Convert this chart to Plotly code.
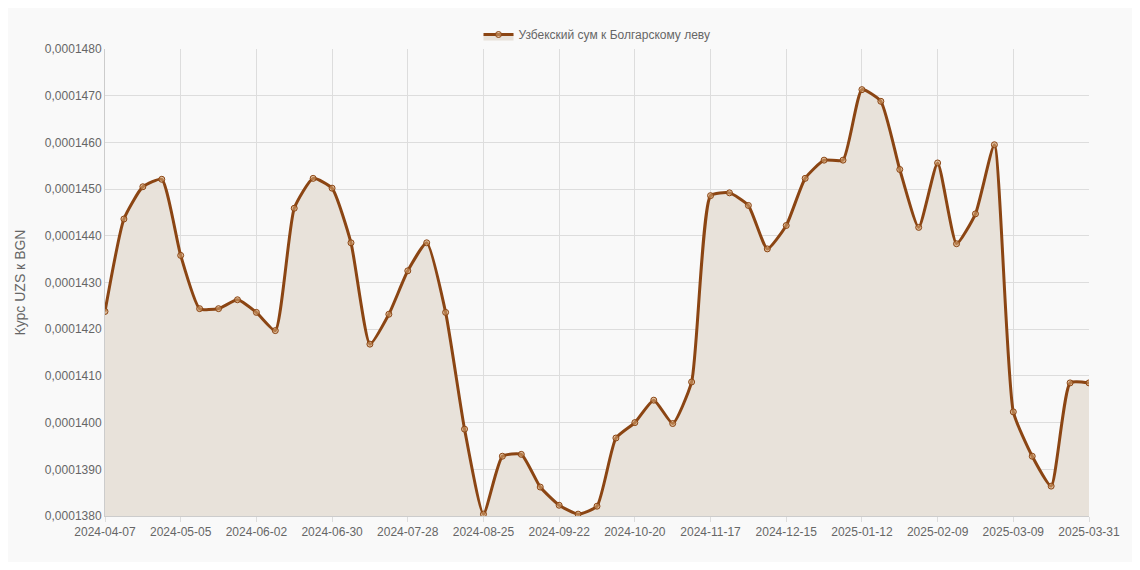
import plotly.graph_objects as go
import pandas as pd

dates = [d.strftime("%Y-%m-%d") for d in pd.date_range("2024-04-07", periods=51, freq="7D")]
dates = dates + ["2025-03-30", "2025-03-31"]

rates = [
    142.38, 144.36, 145.05, 145.21, 143.58, 142.44, 142.44, 142.63, 142.36, 141.97,
    144.59, 145.23, 145.02, 143.85, 141.68, 142.32, 143.25, 143.85, 142.36, 139.86,
    138.04, 139.28, 139.32, 138.62, 138.23, 138.04, 138.21, 139.67, 140.00, 140.48,
    139.98, 140.87, 144.86, 144.92, 144.65, 143.72, 144.22, 145.23, 145.62, 145.62,
    147.13, 146.88, 145.42, 144.18, 145.56, 143.83, 144.47, 145.95, 140.23, 139.28,
    138.64, 140.85, 140.85,
]
rates = [r * 1e-6 for r in rates]

tick_dates = dates[::4] + [dates[-1]]

fig = go.Figure()
fig.add_trace(go.Scatter(
    x=dates, y=rates, mode="lines+markers",
    name="Узбекский сум к Болгарскому леву",
    line=dict(color="#8B4513", width=3, shape="spline", smoothing=0.5),
    marker=dict(size=6, color="rgba(210,160,110,0.6)", line=dict(color="#8B4513", width=1)),
    fill="tozeroy", fillcolor="#e8e2da",
))

fig.update_layout(
    width=1124, height=554,
    paper_bgcolor="#f9f9f9", plot_bgcolor="#f9f9f9",
    margin=dict(l=87, r=26, t=24, b=46),
    separators=", ",
    font=dict(family="Liberation Sans, Arial", size=12, color="#666"),
    legend=dict(orientation="h", x=0.5, xanchor="center", y=1.0, yanchor="bottom",
                font=dict(size=12)),
    showlegend=True,
)
fig.update_xaxes(
    type="category", tickvals=tick_dates, ticktext=tick_dates, tickangle=0,
    showgrid=True, gridcolor="#ddd", linecolor="#ccc", showline=True, ticks="outside",
    tickcolor="#ddd", range=[0, len(dates) - 1],
)
fig.update_yaxes(
    range=[0.000138, 0.000148], dtick=0.000001, tickformat=".7f",
    showgrid=True, gridcolor="#ddd", linecolor="#ccc", showline=True,
    title=dict(text="Курс UZS к BGN", font=dict(size=14)),
)

fig.write_html("out.html")
